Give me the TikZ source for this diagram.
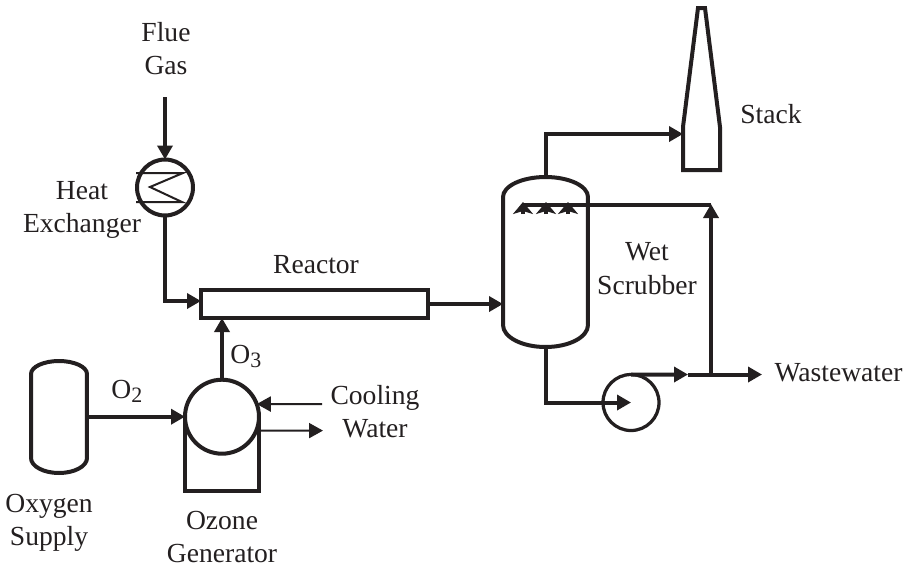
\documentclass[tikz,border=0pt]{standalone}
\usepackage{fontspec}
\setmainfont{Liberation Serif}
\usetikzlibrary{arrows.meta,positioning,calc}
\definecolor{inkblack}{RGB}{35,31,32}
\newcommand{\subdigit}[1]{\raisebox{-2.8pt}{\fontsize{12.5}{12.5}\selectfont #1}}
\begin{document}
\begin{tikzpicture}[
        x=0.02cm,y=-0.02cm,
        unit/.style={draw=inkblack,line width=0.08cm,outer sep=0pt,inner sep=0pt},
        drum/.style={circle,unit},
        box/.style={rectangle,unit},
        ghost/.style={rectangle,outer sep=0pt,inner sep=0pt},
        shell/.style={draw=inkblack,line width=0.08cm,line join=miter},
        coil/.style={draw=inkblack,line width=0.04cm},
        lbl/.style={font=\fontsize{15.7}{19}\selectfont,align=center,text=inkblack,inner sep=0pt},
        arr/.style={draw=inkblack,line width=0.08cm,-{Stealth[inset=0pt,length=0.28cm,width=0.3cm]}},
        arrthin/.style={draw=inkblack,line width=0.04cm,-{Stealth[inset=0pt,length=0.28cm,width=0.3cm]}},
        nozzle/.style={draw=inkblack,line width=0.08cm,-{Stealth[inset=0.06cm,length=0.24cm,width=0.4cm]}}]
        \useasboundingbox (0,0) rectangle (913,566);
        % equipment
        \node[drum,minimum size=1.12cm] (hx) at (165,187.5) {};
        \node[box,minimum width=4.54cm,minimum height=0.56cm] (reactor) at (314.5,304) {};
        \node[ghost,minimum width=1.12cm,minimum height=2.24cm] (oxygen) at (59,416.7) {};
        \node[ghost,minimum width=1.7cm,minimum height=3.4cm] (scrubber) at (545.5,262) {};
        \node[ghost,minimum width=0.74cm,minimum height=3.24cm] (stack) at (701.5,89) {};
        \node[drum,line width=0.065cm,minimum size=1.12cm] (pump) at (631,402.5) {};
        % vessels
        \draw[shell] (scrubber.west|-0,197) arc[start angle=180,end angle=0,x radius=0.85cm,y radius=0.4cm]
          -- (scrubber.east|-0,325) arc[start angle=0,end angle=-180,x radius=0.85cm,y radius=0.44cm] -- cycle;
        \draw[shell] (oxygen.west|-0,374) arc[start angle=180,end angle=0,x radius=0.56cm,y radius=0.26cm]
          -- (oxygen.east|-0,458) arc[start angle=0,end angle=-180,x radius=0.56cm,y radius=0.3cm] -- cycle;
        \draw[shell] (683,170) -- (683,127) -- (698,8) -- (705,8) -- (720,127) -- (720,170) -- cycle;
        \draw[shell] (185,416.5) -- (185,490.7) -- (259,490.7) -- (259,416.5);
        \node[drum,fill=white,minimum size=1.48cm] (ozone) at (222,416.7) {};
        % coil of the exchanger
        \draw[coil] (136,173) -- (183,173) -- (150,187) -- (182,202) -- (136,202);
        % free ends
        \coordinate (fluein) at (165,97);
        \coordinate (reactorin) at (201,301);
        \coordinate (stackin) at (683,134);
        \coordinate (coolin) at (322,404);
        \coordinate (coolout) at (323,430.6);
        \coordinate (midtip) at (688,374.5);
        \coordinate (junction) at (711,374.5);
        \coordinate (wwout) at (762,374.5);
        \coordinate (sprayend) at (711,204);
        \coordinate (spraystart) at (523,205);
        \coordinate (scrubtop) at (546,177);
        \coordinate (scrubbot) at (546,347);
        \draw[arr] (fluein) -- (hx.north);
        \draw[arr] (hx.south) |- (reactorin);
        \draw[arr] (ozone.north) -- (ozone.north|-reactor.south);
        \draw[arr] (oxygen.east) -- (ozone.west);
        \draw[arr] (reactor.east) -- (reactor.east-|scrubber.west);
        \draw[arr] (scrubtop) |- (stackin);
        \draw[arr] (scrubbot) |- (pump.center);
        \draw[arr] (pump.north) -- (midtip);
        \draw[arr] (midtip) -- (wwout);
        \draw[arr] (junction) -- (sprayend);
        \draw[draw=inkblack,line width=0.08cm] (sprayend|-spraystart) -- (spraystart);
        \draw[arrthin] (coolin) -- (ozone.20);
        \draw[arrthin] (ozone.-22) -- (coolout);
        \foreach \nx in {523,546,568}
          \draw[nozzle] (\nx,214) -- (\nx,202);
        % labels
        \node[lbl] (fluelbl) at (166,48.5) {Flue\\Gas};
        \node[lbl] (hxlbl) at (82,210) {Heat\\Exchanger};
        \node[lbl] (reactorlbl) at (316,265) {Reactor};
        \node[lbl] (stacklbl) at (771,114) {Stack};
        \node[lbl] (scrublbl) at (647,268.5) {Wet\\Scrubber};
        \node[lbl] (wwlbl) at (838.5,373) {Wastewater};
        \node[lbl,anchor=base west] (o2lbl) at (111,398) {O\subdigit{2}};
        \node[lbl,anchor=base west] (o3lbl) at (230,363) {O\subdigit{3}};
        \node[lbl] (coollbl) at (375,411.5) {Cooling\\Water};
        \node[lbl] (oxylbl) at (49,523) {Oxygen\\Supply};
        \node[lbl] (ozlbl) at (222,537) {Ozone\\Generator};
      \end{tikzpicture}
\end{document}
